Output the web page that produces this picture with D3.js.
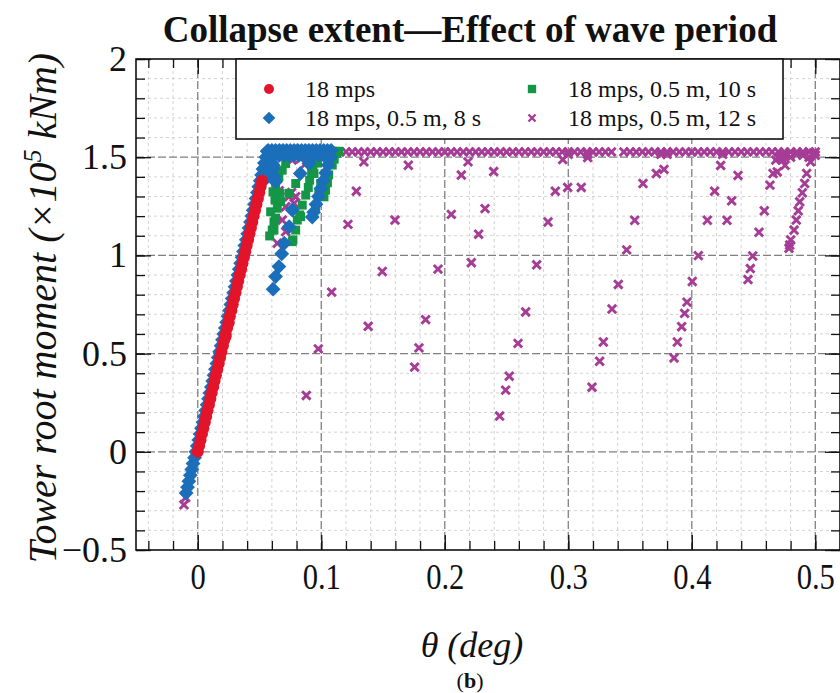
<!DOCTYPE html>
<html><head><meta charset="utf-8">
<script src="https://cdn.jsdelivr.net/npm/d3@7"></script>
<style>body{margin:0;background:#fff;} text{font-family:"Liberation Serif","Times New Roman",serif;fill:#111;}</style>
</head><body><svg id="c" width="840" height="693"></svg>
<script>
const seriesNames = ["18 mps", "18 mps, 0.5 m, 8 s", "18 mps, 0.5 m, 10 s", "18 mps, 0.5 m, 12 s"];
const seriesColors = ["#e3142a", "#1b6eb9", "#149646", "#a53c96"];
const xMajorTicks = [0, 0.1, 0.2, 0.3, 0.4, 0.5];
const yMajorTicks = [-0.5, 0, 0.5, 1, 1.5, 2];

// 18 mps (no waves)
const red18 = [[0.0000,0.00],[0.0011,0.03],[0.0023,0.06],[0.0034,0.09],[0.0045,0.12],[0.0057,0.15],[0.0068,0.18],[0.0079,0.21],[0.0091,0.24],[0.0102,0.27],[0.0113,0.30],[0.0125,0.33],[0.0136,0.36],[0.0147,0.39],[0.0158,0.42],[0.0170,0.45],[0.0181,0.48],[0.0192,0.51],[0.0204,0.54],[0.0215,0.57],[0.0226,0.60],[0.0238,0.63],[0.0249,0.66],[0.0260,0.69],[0.0272,0.72],[0.0283,0.75],[0.0294,0.78],[0.0306,0.81],[0.0317,0.84],[0.0328,0.87],[0.0340,0.90],[0.0351,0.93],[0.0362,0.96],[0.0374,0.99],[0.0385,1.02],[0.0396,1.05],[0.0408,1.08],[0.0419,1.11],[0.0430,1.14],[0.0442,1.17],[0.0453,1.20],[0.0464,1.23],[0.0475,1.26],[0.0487,1.29],[0.0498,1.32],[0.0509,1.35],[0.0521,1.38],[0.0226,0.588],[0.0250,0.656]];

// 18 mps, 0.5 m, 8 s
const blue8s = [[-0.0094,-0.21],[-0.0083,-0.18],[-0.0072,-0.15],[-0.0060,-0.12],[-0.0049,-0.09],[-0.0038,-0.06],[-0.0026,-0.03],[-0.0015,0.00],[-0.0004,0.03],[0.0008,0.06],[0.0019,0.09],[0.0030,0.12],[0.0042,0.15],[0.0053,0.18],[0.0064,0.21],[0.0076,0.24],[0.0087,0.27],[0.0098,0.30],[0.0110,0.33],[0.0121,0.36],[0.0132,0.39],[0.0143,0.42],[0.0155,0.45],[0.0166,0.48],[0.0177,0.51],[0.0189,0.54],[0.0200,0.57],[0.0211,0.60],[0.0223,0.63],[0.0234,0.66],[0.0245,0.69],[0.0257,0.72],[0.0268,0.75],[0.0279,0.78],[0.0291,0.81],[0.0302,0.84],[0.0313,0.87],[0.0325,0.90],[0.0336,0.93],[0.0347,0.96],[0.0359,0.99],[0.0370,1.02],[0.0381,1.05],[0.0393,1.08],[0.0404,1.11],[0.0415,1.14],[0.0427,1.17],[0.0438,1.20],[0.0449,1.23],[0.0460,1.26],[0.0472,1.29],[0.0483,1.32],[0.0494,1.35],[0.0506,1.38],[0.0517,1.41],[0.0528,1.44],[0.0540,1.47],[0.0551,1.50],[0.0562,1.53],
 [0.057,1.49],[0.059,1.50],[0.060,1.47],[0.058,1.45],[0.061,1.44],[0.056,1.42],[0.059,1.41],[0.062,1.40],[0.055,1.39],[0.063,1.375],[0.061,1.46],
 [0.057,1.535],[0.060,1.535],[0.063,1.535],[0.066,1.535],[0.069,1.535],[0.072,1.535],[0.075,1.535],[0.078,1.535],[0.081,1.535],[0.084,1.535],[0.087,1.535],[0.090,1.535],[0.093,1.535],[0.096,1.535],[0.099,1.535],[0.102,1.535],[0.105,1.535],[0.108,1.535],
 [0.062,1.51],[0.066,1.51],[0.070,1.51],[0.074,1.51],[0.078,1.51],[0.082,1.51],[0.086,1.51],[0.090,1.51],[0.094,1.51],[0.098,1.51],[0.102,1.51],[0.106,1.51],
 [0.1075,1.50],[0.1055,1.46],[0.1036,1.42],[0.1016,1.38],[0.0997,1.34],[0.0977,1.30],[0.0957,1.26],[0.0938,1.22],[0.0927,1.195],
 [0.083,1.417],[0.090,1.468],[0.0765,1.231],[0.074,1.146],[0.070,1.062],[0.068,1.008],[0.0657,0.943],[0.063,0.892],[0.061,0.828]];

// 18 mps, 0.5 m, 10 s
const green10s = [[0.063,1.53],[0.066,1.53],[0.069,1.53],[0.072,1.53],[0.075,1.53],[0.078,1.53],[0.081,1.53],[0.084,1.53],[0.087,1.53],[0.090,1.53],[0.093,1.53],[0.096,1.53],[0.099,1.53],[0.102,1.53],[0.105,1.53],[0.108,1.53],[0.111,1.53],[0.114,1.53],
 [0.0590,1.222],[0.0617,1.171],[0.0603,1.129],[0.0582,1.099],[0.0644,1.240],[0.0625,1.282],[0.0609,1.324],[0.0631,1.358],[0.0657,1.400],[0.0684,1.434],[0.0712,1.468],[0.0663,1.316],[0.0671,1.273],[0.0617,1.129],[0.0630,1.190],
 [0.0793,1.129],[0.0771,1.079],[0.0806,1.180],[0.0825,1.206],[0.0846,1.256],[0.0874,1.307],[0.0895,1.346],[0.0906,1.383],[0.0922,1.420],[0.0933,1.454],[0.0738,1.316],[0.0793,1.366],[0.0765,1.070],[0.0833,1.197],
 [0.0955,1.248],[0.0980,1.316],[0.0995,1.366],[0.1022,1.298],[0.1035,1.332],[0.1050,1.370],[0.1060,1.410],[0.1089,1.460],[0.1105,1.490],[0.1124,1.520],[0.0941,1.417],[0.0970,1.470]];

// 18 mps, 0.5 m, 12 s
const purple12s = [[0.060,1.527],[0.065,1.527],[0.070,1.527],[0.075,1.527],[0.080,1.527],[0.085,1.527],[0.090,1.527],[0.095,1.527],[0.100,1.527],[0.105,1.527],[0.110,1.527],[0.115,1.527],[0.120,1.527],[0.125,1.527],[0.130,1.527],[0.135,1.527],[0.140,1.527],[0.145,1.527],[0.150,1.527],[0.155,1.527],[0.160,1.527],[0.165,1.527],[0.170,1.527],[0.175,1.527],[0.180,1.527],[0.185,1.527],[0.190,1.527],[0.195,1.527],[0.200,1.527],[0.205,1.527],[0.210,1.527],[0.215,1.527],[0.220,1.527],[0.225,1.527],[0.230,1.527],[0.235,1.527],[0.240,1.527],[0.245,1.527],[0.250,1.527],[0.255,1.527],[0.260,1.527],[0.265,1.527],[0.270,1.527],[0.275,1.527],[0.280,1.527],[0.285,1.527],[0.290,1.527],[0.295,1.527],[0.300,1.527],[0.305,1.527],[0.310,1.527],[0.315,1.527],[0.320,1.527],[0.325,1.527],[0.330,1.527],[0.335,1.527],[0.345,1.527],[0.350,1.527],[0.355,1.527],[0.360,1.527],[0.365,1.527],[0.370,1.527],[0.375,1.527],[0.380,1.527],[0.385,1.527],[0.390,1.527],[0.395,1.527],[0.400,1.527],[0.405,1.527],[0.410,1.527],[0.415,1.527],[0.420,1.527],[0.425,1.527],[0.430,1.527],[0.435,1.527],[0.440,1.527],[0.445,1.527],[0.450,1.527],[0.455,1.527],[0.460,1.527],[0.465,1.527],[0.470,1.527],[0.475,1.527],[0.480,1.527],[0.485,1.527],[0.490,1.527],[0.495,1.527],[0.500,1.527],
 [0.468,1.485],[0.473,1.500],[0.470,1.500],[0.475,1.510],[0.480,1.500],[0.485,1.515],[0.490,1.510],[0.495,1.500],[0.498,1.520],[0.500,1.510],[0.4735,1.485],[0.300,1.515],[0.3157,1.515],[0.375,1.515],[0.380,1.515],[0.425,1.515],
 [-0.0098,-0.233],[-0.0112,-0.270],
 [0.0603,1.417],[0.0738,1.299],[0.0793,1.299],[0.0780,1.265],[0.0712,1.248],[0.0684,1.180],[0.0712,1.121],[0.0644,1.062],[0.0765,1.485],[0.0833,1.493],[0.063,1.425],[0.076,1.320],[0.0874,1.468],[0.0955,1.480],[0.066,1.330],
 [0.0976,0.524],[0.0879,0.287],[0.1084,0.813],[0.1216,1.158],[0.1284,1.327],[0.1345,1.476],[0.1380,0.639],[0.1494,0.918],[0.1597,1.180],[0.1705,1.459],[0.1756,0.431],[0.1791,0.529],[0.1845,0.673],
 [0.1945,0.930],[0.2053,1.209],[0.2134,1.409],[0.2188,1.476],[0.2215,0.963],[0.2274,1.108],[0.2326,1.238],[0.2396,1.427],[0.2444,0.182],[0.2493,0.314],[0.2522,0.385],[0.2593,0.552],[0.2655,0.712],[0.2744,0.952],[0.2836,1.170],[0.2895,1.327],[0.2955,1.488],[0.2995,1.346],[0.3105,1.346],[0.3157,1.498],
 [0.3192,0.329],[0.3254,0.461],[0.3284,0.559],[0.3354,0.727],[0.3405,0.852],[0.3473,1.028],[0.3538,1.179],[0.3605,1.366],[0.3713,1.417],[0.3775,1.438],
 [0.3856,0.478],[0.3883,0.559],[0.3918,0.637],[0.3942,0.705],[0.3961,0.762],[0.4004,0.867],[0.4053,0.999],[0.4126,1.179],[0.4185,1.327],[0.4234,1.458],[0.4285,1.179],[0.4323,1.278],[0.4374,1.407],
 [0.4455,0.877],[0.4474,0.933],[0.4493,0.997],[0.4544,1.118],[0.4587,1.227],[0.4633,1.358],[0.4658,1.417],[0.4692,1.425],[0.4755,1.459],
 [0.4787,1.036],[0.4793,1.053],[0.4801,1.079],[0.4828,1.129],[0.4846,1.180],[0.4862,1.227],[0.4874,1.273],[0.4895,1.319],[0.4914,1.366],[0.4930,1.417],[0.4962,1.476]];

const svg = d3.select("#c");
const L = 136, R = 840, T = 59, B = 550;
const x = d3.scaleLinear().domain([-0.05, 0.52]).range([L, R]);
const y = d3.scaleLinear().domain([-0.5, 2]).range([B, T]);

const xMinor = d3.range(-2, 27).map(i => +(i * 0.02).toFixed(2));
const yMinor = d3.range(-5, 21).map(i => +(i * 0.1).toFixed(1));
const isMajorX = v => Math.abs(v * 10 - Math.round(v * 10)) < 1e-6;
const isMajorY = v => Math.abs(v * 2 - Math.round(v * 2)) < 1e-6;

svg.append("rect").attr("width", 840).attr("height", 693).attr("fill", "#fff");

const grid = svg.append("g");
grid.selectAll(".gxm").data(xMinor.filter(v => !isMajorX(v))).join("line")
  .attr("x1", d => x(d)).attr("x2", d => x(d)).attr("y1", T).attr("y2", B)
  .attr("stroke", "#d2d2d2").attr("stroke-width", 1).attr("stroke-dasharray", "3,3");
grid.selectAll(".gym").data(yMinor.filter(v => !isMajorY(v))).join("line")
  .attr("y1", d => y(d)).attr("y2", d => y(d)).attr("x1", L).attr("x2", R)
  .attr("stroke", "#d2d2d2").attr("stroke-width", 1).attr("stroke-dasharray", "3,3");
grid.selectAll(".gxM").data(xMajorTicks).join("line")
  .attr("x1", d => x(d)).attr("x2", d => x(d)).attr("y1", T).attr("y2", B)
  .attr("stroke", "#808080").attr("stroke-width", 1.3).attr("stroke-dasharray", "8,3");
grid.selectAll(".gyM").data(yMajorTicks.filter(v => v > -0.5 && v < 2)).join("line")
  .attr("y1", d => y(d)).attr("y2", d => y(d)).attr("x1", L).attr("x2", R)
  .attr("stroke", "#808080").attr("stroke-width", 1.3).attr("stroke-dasharray", "8,3");

// axes with inward ticks
function ticks(axisFn, scale, vals, size, tr) {
  const g = svg.append("g").attr("transform", tr)
    .call(axisFn(scale).tickValues(vals).tickSize(-size).tickFormat(""));
  g.select(".domain").remove();
  g.selectAll("line").attr("stroke", "#111").attr("stroke-width", 1.3);
  return g;
}
const fmt = d3.format("~g");
ticks(d3.axisBottom, x, xMinor, 9, `translate(0,${B})`);
ticks(d3.axisBottom, x, xMajorTicks, 15, `translate(0,${B})`);
ticks(d3.axisTop, x, xMinor, 9, `translate(0,${T})`);
ticks(d3.axisTop, x, xMajorTicks, 15, `translate(0,${T})`);
ticks(d3.axisLeft, y, yMinor, 9, `translate(${L},0)`);
ticks(d3.axisLeft, y, yMajorTicks, 15, `translate(${L},0)`);
ticks(d3.axisRight, y, yMinor, 9, `translate(${R},0)`);
ticks(d3.axisRight, y, yMajorTicks, 15, `translate(${R},0)`);

const xl = svg.append("g").attr("transform", `translate(0,${B})`)
  .call(d3.axisBottom(x).tickValues(xMajorTicks).tickSize(0).tickPadding(13).tickFormat(fmt));
xl.select(".domain").remove();
xl.selectAll("text").attr("font-size", 36).attr("font-family", "Liberation Serif").attr("fill", "#111")
  .attr("text-anchor", "middle")
  .style("transform", "scaleX(0.85)").style("transform-box", "fill-box").style("transform-origin", "center");
const yl = svg.append("g").attr("transform", `translate(${L},0)`)
  .call(d3.axisLeft(y).tickValues(yMajorTicks).tickSize(0).tickPadding(9).tickFormat(fmt));
yl.select(".domain").remove();
yl.selectAll("text").attr("font-size", 36).attr("font-family", "Liberation Serif").attr("fill", "#111");

// markers
const crossType = { draw(ctx, size) { const r = Math.sqrt(size) / 2; ctx.moveTo(-r, -r); ctx.lineTo(r, r); ctx.moveTo(r, -r); ctx.lineTo(-r, r); } };
const plot = svg.append("g");
function drawPts(data, kind, color) {
  const g = plot.append("g");
  if (kind === "x") {
    g.selectAll("path").data(data).join("path")
      .attr("d", d3.symbol().type(crossType).size(70))
      .attr("transform", d => `translate(${x(d[0])},${y(d[1])})`)
      .attr("fill", "none").attr("stroke", color).attr("stroke-width", 2.9);
  } else if (kind === "o") {
    g.selectAll("circle").data(data).join("circle")
      .attr("cx", d => x(d[0])).attr("cy", d => y(d[1])).attr("r", 6).attr("fill", color);
  } else if (kind === "d") {
    g.selectAll("path").data(data).join("path")
      .attr("d", d3.symbol().type(d3.symbolSquare).size(110))
      .attr("transform", d => `translate(${x(d[0])},${y(d[1])}) rotate(45)`).attr("fill", color);
  } else {
    g.selectAll("path").data(data).join("path")
      .attr("d", d3.symbol().type(d3.symbolSquare).size(80))
      .attr("transform", d => `translate(${x(d[0])},${y(d[1])})`).attr("fill", color);
  }
}
drawPts(purple12s, "x", seriesColors[3]);
drawPts(green10s, "s", seriesColors[2]);
drawPts(blue8s, "d", seriesColors[1]);
drawPts(red18, "o", seriesColors[0]);

// frame
svg.append("rect").attr("x", L).attr("y", T).attr("width", R - L).attr("height", B - T)
  .attr("fill", "none").attr("stroke", "#111").attr("stroke-width", 1.6);

// legend
const lg = svg.append("g");
lg.append("rect").attr("x", 236).attr("y", T).attr("width", 547).attr("height", 80)
  .attr("fill", "#fff").attr("stroke", "#111").attr("stroke-width", 1.6);
const legPos = [[269, 89], [269, 118], [532, 89], [532, 118]];
const kinds = ["o", "d", "s", "x"];
legPos.forEach((p, i) => {
  const c = seriesColors[i];
  if (kinds[i] === "o") lg.append("circle").attr("cx", p[0]).attr("cy", p[1]).attr("r", 5).attr("fill", c);
  else if (kinds[i] === "d") lg.append("path").attr("d", d3.symbol().type(d3.symbolSquare).size(80)()).attr("transform", `translate(${p[0]},${p[1]}) rotate(45)`).attr("fill", c);
  else if (kinds[i] === "s") lg.append("path").attr("d", d3.symbol().type(d3.symbolSquare).size(70)()).attr("transform", `translate(${p[0]},${p[1]})`).attr("fill", c);
  else lg.append("path").attr("d", d3.symbol().type(crossType).size(49)()).attr("transform", `translate(${p[0]},${p[1]})`).attr("fill", "none").attr("stroke", c).attr("stroke-width", 2.4);
  lg.append("text").attr("x", p[0] + 36).attr("y", p[1] + 8).attr("font-size", 24).text(seriesNames[i]);
});

// title and labels
svg.append("text").attr("x", 470).attr("y", 42).attr("text-anchor", "middle")
  .attr("font-size", 37).attr("font-weight", "bold").text("Collapse extent\u2014Effect of wave period");
const yt = svg.append("text").attr("transform", "translate(56,308) rotate(-90)").attr("text-anchor", "middle")
  .attr("font-size", 40).attr("font-style", "italic");
yt.append("tspan").text("Tower root moment (\u00d710");
yt.append("tspan").attr("dy", -15).attr("font-size", 26).text("5");
yt.append("tspan").attr("dy", 15).text(" kNm)");
svg.append("text").attr("x", 472).attr("y", 657).attr("text-anchor", "middle")
  .attr("font-size", 36).attr("font-style", "italic").text("\u03b8 (deg)");
const bt = svg.append("text").attr("x", 470).attr("y", 688).attr("text-anchor", "middle").attr("font-size", 22);
bt.append("tspan").text("(");
bt.append("tspan").attr("font-weight", "bold").text("b");
bt.append("tspan").text(")");
</script></body></html>
